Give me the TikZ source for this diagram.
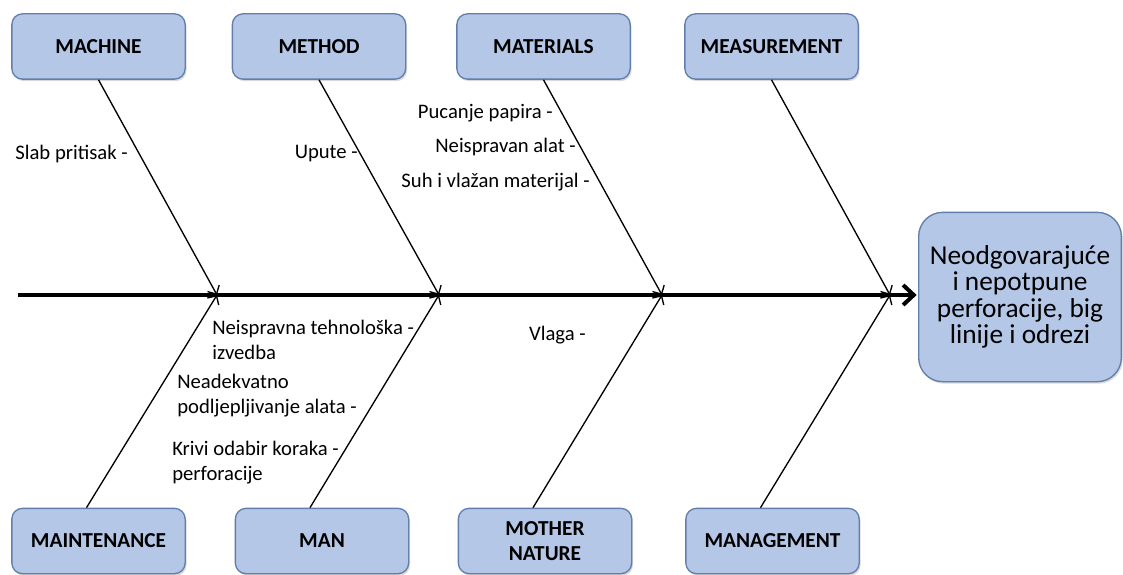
\documentclass[tikz,border=0pt]{standalone}
\usepackage{fontspec}
\setmainfont{Carlito}
\usetikzlibrary{arrows.meta,shadows}
\definecolor{boxfill}{RGB}{181,199,231}
\definecolor{boxline}{RGB}{98,126,172}
\begin{document}
\begin{tikzpicture}[x=0.75pt,y=-0.75pt,
    cat/.style={draw=boxline,fill=boxfill,line width=1pt,rounded corners=8pt,
      minimum width=130pt,minimum height=49pt,align=center,
      font=\fontsize{16}{18.75}\selectfont\bfseries,
      drop shadow={opacity=.3,shadow xshift=1pt,shadow yshift=-1.5pt}},
    effectbox/.style={cat,minimum width=152pt,minimum height=127pt,
      rounded corners=18pt,font=\fontsize{20.5}{19.8}\selectfont},
    cause/.style={font=\fontsize{15.5}{18.75}\selectfont,inner sep=0pt,align=left},
    bone/.style={line width=1pt,-{Straight Barb[length=5pt,width=10pt]}},
    spine/.style={line width=3pt,-{Straight Barb[length=8pt,width=15pt]}}]
  \useasboundingbox (0,0) rectangle (1123,574);
  % categories
  \node[cat] (machine) at (98.5,46.5) {MACHINE};
  \node[cat] (method) at (319,46.5) {METHOD};
  \node[cat] (materials) at (543.5,46.5) {MATERIALS};
  \node[cat] (measure) at (771.5,46.5) {MEASUREMENT};
  \node[cat] (maint) at (98.5,541) {MAINTENANCE};
  \node[cat] (man) at (322,541) {MAN};
  \node[cat] (nature) at (545,541) {MOTHER\\NATURE};
  \node[cat] (mgmt) at (772.5,541) {MANAGEMENT};
  \node[effectbox] (effect) at (1020,297)
    {Neodgovarajuće\\i nepotpune\\perforacije, big\\linije i odrezi};
  % spine
  \coordinate (tail) at (18,295);
  \coordinate (j1) at (217,295);
  \coordinate (j2) at (439,295);
  \coordinate (j3) at (662,295);
  \coordinate (j4) at (890,295);
  \draw[spine,shorten >=1pt] (tail) -- (effect.west |- tail);
  % bones
  \draw[bone] (machine.south) -- (j1);
  \draw[bone] (method.south) -- (j2);
  \draw[bone] (materials.south) -- (j3);
  \draw[bone] (measure.south) -- (j4);
  \draw[bone] (maint.north) ++(-12,0) -- (j1);
  \draw[bone] (man.north) ++(-12,0) -- (j2);
  \draw[bone] (nature.north) ++(-12,0) -- (j3);
  \draw[bone] (mgmt.north) ++(-12,0) -- (j4);
  % causes
  \node[cause,anchor=east] (slab) at (128,154) {Slab pritisak -};
  \node[cause,anchor=east] (upute) at (358,154) {Upute -};
  \node[cause,anchor=east] (pucanje) at (553,113) {Pucanje papira -};
  \node[cause,anchor=east] (alat) at (576,147) {Neispravan alat -};
  \node[cause,anchor=east] (suh) at (590,182) {Suh i vlažan materijal -};
  \node[cause,anchor=west] (tehn) at (212,339.5) {Neispravna tehnološka -\\izvedba};
  \node[cause,anchor=west] (podlj) at (177,395.5) {Neadekvatno\\podljepljivanje alata -};
  \node[cause,anchor=west] (krivi) at (172,462.5) {Krivi odabir koraka -\\perforacije};
  \node[cause,anchor=east] (vlaga) at (586,335) {Vlaga -};
\end{tikzpicture}
\end{document}
